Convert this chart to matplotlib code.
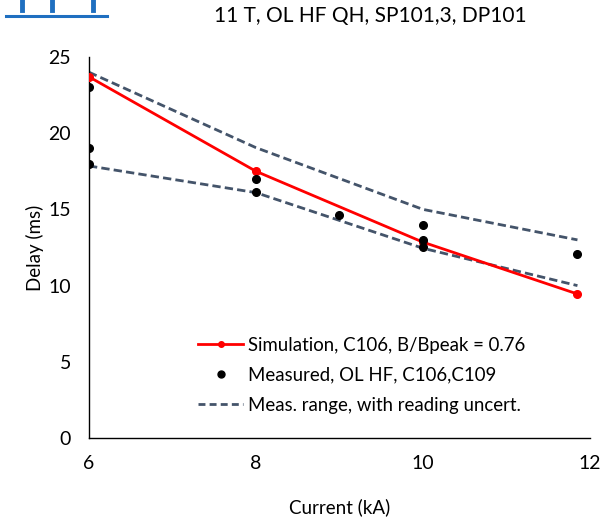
import matplotlib.pyplot as plt
from matplotlib.lines import Line2D

plt.rcParams['font.family'] = ['Lato', 'DejaVu Sans']

# simulation curve
sim_I = [6, 8, 10, 11.85]
sim_delay = [23.7, 17.5, 12.85, 9.45]

# measured points
meas_I = [6, 6, 6, 8, 8, 9, 10, 10, 10, 11.85]
meas_delay = [23.0, 19.0, 17.95, 17.0, 16.15, 14.6, 14.0, 13.0, 12.55, 12.05]

# measured range incl. reading uncertainty
rng_I = [6, 8, 10, 11.85]
rng_hi = [24.0, 19.05, 15.0, 13.0]
rng_lo = [17.85, 16.1, 12.45, 10.0]

red = '#FF0000'
slate = '#44546A'
dash = (0, (3, 1.5))

fig = plt.figure(figsize=(6.0, 5.18), dpi=100)
ax = fig.add_axes([0.1483, 0.1544, 0.835, 0.7356])

ax.plot(rng_I, rng_hi, color=slate, lw=2, ls=dash, zorder=2)
ax.plot(rng_I, rng_lo, color=slate, lw=2, ls=dash, zorder=2)
ax.plot(sim_I, sim_delay, color=red, lw=2, marker='o', ms=5.5, zorder=3)
ax.plot(meas_I, meas_delay, 'o', color='black', ms=5.5, zorder=4)

ax.set_xlim(6, 12)
ax.set_ylim(0, 25)
ax.set_xticks([6, 8, 10, 12])
ax.set_yticks([0, 5, 10, 15, 20, 25])
ax.tick_params(length=0, labelsize=14, colors='black')
ax.tick_params(axis='x', pad=12)
ax.tick_params(axis='y', pad=13)
for s in ['top', 'right']:
    ax.spines[s].set_visible(False)
for s in ['left', 'bottom']:
    ax.spines[s].set_linewidth(1.0)

ax.set_xlabel('Current (kA)', fontsize=13.5, labelpad=19)
ax.set_ylabel('Delay (ms)', fontsize=13.5, labelpad=3)
fig.text(0.617, 0.97, '11 T, OL HF QH, SP101,3, DP101', ha='center',
         va='center', fontsize=15)

handles = [
    Line2D([], [], color=red, lw=2, marker='o', ms=4),
    Line2D([], [], color='black', ls='none', marker='o', ms=5),
    Line2D([], [], color=slate, lw=2, ls=(0, (2.5, 1.5))),
]
labels = ['Simulation, C106, B/Bpeak = 0.76',
          'Measured, OL HF, C106,C109',
          'Meas. range, with reading uncert.']
ax.legend(handles, labels, loc='center left', bbox_to_anchor=(0.218, 0.165),
          frameon=False, fontsize=13.4, handlelength=2.4, handletextpad=0.3,
          labelspacing=0.7, borderpad=0, borderaxespad=0)

# fragment of a logo at top-left corner of the slide crop
logo = '#1F6FC0'
fig.add_artist(Line2D([0.01, 0.178], [0.97, 0.97], color=logo, lw=2.2))
for xv in [0.037, 0.087, 0.155]:
    fig.add_artist(Line2D([xv, xv], [0.98, 1.0], color=logo, lw=3.5))

fig.savefig('out.png', dpi=100)
